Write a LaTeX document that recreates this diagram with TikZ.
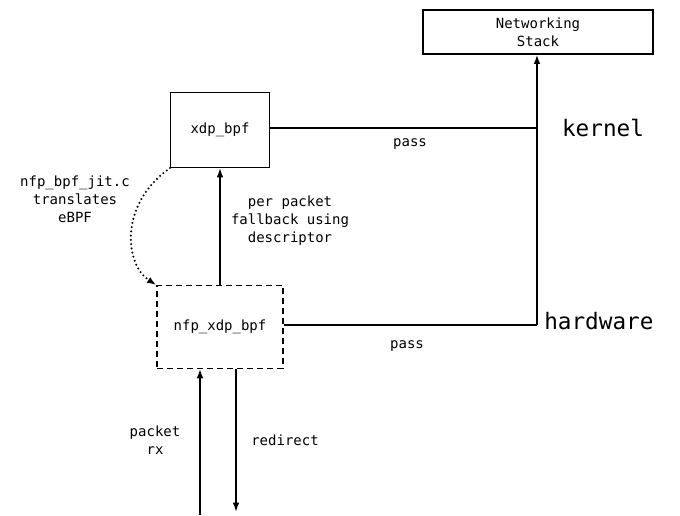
\documentclass[tikz,border=0pt]{standalone}
\usepackage{fontspec}
\setmainfont{DejaVu Sans Mono}
\usetikzlibrary{arrows.meta}

\begin{document}
\begin{tikzpicture}[x=0.75pt, y=-0.75pt,
    smalltext/.style={font=\fontsize{10.5}{13.5}\selectfont, align=center, inner sep=0pt},
    bigtext/.style={font=\fontsize{17}{20}\selectfont, inner sep=0pt},
    progbox/.style={draw, line width=0.9pt, smalltext},
    flow/.style={line width=1.3pt, -{Latex[length=7pt, width=5pt]}},
    wire/.style={line width=1.3pt}]
    \useasboundingbox (0,0) rectangle (680,515);

    % Boxes
    \node[progbox, minimum width=172.5pt, minimum height=33pt] (stack) at (538,32) {Networking\\Stack};
    \node[progbox, minimum width=74pt, minimum height=56pt] (xdpbpf) at (220,130) {xdp\_bpf};
    \node[progbox, dash pattern=on 4.5pt off 3pt, minimum width=94.5pt, minimum height=62pt] (nfpbpf) at (220,327) {nfp\_xdp\_bpf};

    % Junctions on the kernel / hardware rail
    \coordinate (kjoin) at (537,128);
    \coordinate (hjoin) at (537,325);
    \coordinate (rxin) at (200,515);
    \coordinate (redir) at (236,512);

    % Pass paths into the networking stack
    \draw[wire] (xdpbpf.east |- kjoin) -- (kjoin);
    \draw[wire] (nfpbpf.east |- hjoin) -- (hjoin);
    \draw[flow] (hjoin) -- (stack.south -| hjoin);

    % Fallback and JIT translation
    \draw[flow] (nfpbpf.north) -- (xdpbpf.south);
    \draw[line width=1.7pt, line cap=round, dash pattern=on 0pt off 3.2pt, -{Latex[length=7pt, width=5pt]}]
        (xdpbpf.south west) .. controls (118,205) and (125,265) .. (nfpbpf.north west);

    % Packets in and out of the card
    \draw[flow] (rxin) -- (rxin |- nfpbpf.south);
    \draw[flow] (redir |- nfpbpf.south) -- (redir);

    % Labels
    \node[smalltext] (passk) at (410,144) {pass};
    \node[smalltext] (passh) at (407,346) {pass};
    \node[bigtext] (kernel) at (603,128) {kernel};
    \node[bigtext, anchor=west] (hardware) at (544,321) {hardware};
    \node[smalltext] (jitlbl) at (75,199) {nfp\_bpf\_jit.c\\translates\\eBPF};
    \node[smalltext] (fblbl) at (290,221) {per packet\\fallback using\\descriptor};
    \node[smalltext] (rxlbl) at (155,440) {packet\\rx};
    \node[smalltext] (redirlbl) at (285,440) {redirect};
\end{tikzpicture}
\end{document}
